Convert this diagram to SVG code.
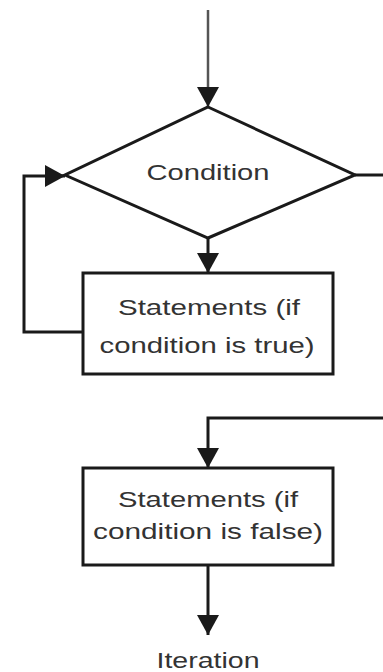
<svg xmlns="http://www.w3.org/2000/svg" width="383" height="672" viewBox="0 0 383 672">
<style>
.shape{fill:#fff;stroke:#1a1a1a;stroke-width:3}
.conn{fill:none;stroke:#1a1a1a;stroke-width:3}
.lbl{font-family:"Liberation Sans",Arial,sans-serif;font-size:22px;fill:#333;text-anchor:middle}
</style>
<defs>
<marker id="ah" markerUnits="userSpaceOnUse" markerWidth="22" markerHeight="22" viewBox="0 0 22 22" refX="20" refY="11" orient="auto">
<path d="M0,0 L20,11 L0,22 Z" fill="#1a1a1a"/>
</marker>
</defs>
<rect width="383" height="672" fill="#fff"/>
<g id="connectors">
<line x1="208" y1="10" x2="208" y2="107" class="conn" style="stroke:#555;stroke-width:2.5" marker-end="url(#ah)"/>
<line x1="208" y1="238" x2="208" y2="273" class="conn" marker-end="url(#ah)"/>
<polyline points="83,332 24,332 24,176 65,176" class="conn" marker-end="url(#ah)"/>
<line x1="355" y1="175" x2="383" y2="175" class="conn"/>
<polyline points="383,418 208,418 208,468" class="conn" marker-end="url(#ah)"/>
<line x1="208" y1="565" x2="208" y2="635" class="conn" marker-end="url(#ah)"/>
</g>
<g id="condition">
<polygon points="208,107 355,175 208,238 65,175" class="shape"/>
<text x="208" y="180" class="lbl" textLength="123" lengthAdjust="spacingAndGlyphs">Condition</text>
</g>
<g id="true-stmts">
<rect x="83" y="273" width="250" height="101" class="shape"/>
<text x="209" y="315" class="lbl" textLength="182" lengthAdjust="spacingAndGlyphs">Statements (if</text>
<text x="207" y="353" class="lbl" textLength="215" lengthAdjust="spacingAndGlyphs">condition is true)</text>
</g>
<g id="false-stmts">
<rect x="83" y="468" width="250" height="97" class="shape"/>
<text x="208" y="507" class="lbl" textLength="180" lengthAdjust="spacingAndGlyphs">Statements (if</text>
<text x="208" y="539" class="lbl" textLength="230" lengthAdjust="spacingAndGlyphs">condition is false)</text>
</g>
<g id="iteration">
<text x="208" y="668" class="lbl" textLength="103" lengthAdjust="spacingAndGlyphs">Iteration</text>
</g>
</svg>
